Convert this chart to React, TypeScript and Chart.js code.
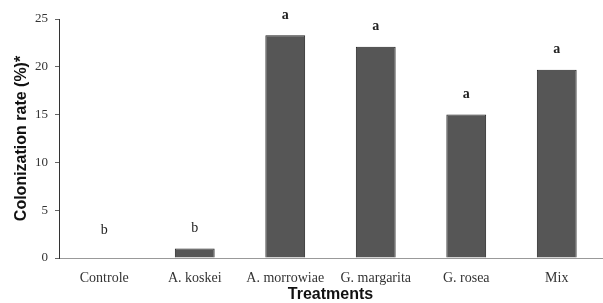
import React, { useEffect, useRef } from "react";
import { Chart, registerables } from "chart.js";

Chart.register(...registerables);

const categories = ["Controle", "A. koskei", "A. morrowiae", "G. margarita", "G. rosea", "Mix"];
const colonization = [0, 1.0, 23.3, 22.1, 15.0, 19.7];
const letters = ["b", "b", "a", "a", "a", "a"];
const yTicks = [0, 5, 10, 15, 20, 25];

const letterPlugin = {
  id: "letters",
  afterDatasetsDraw(chart: any) {
    const ctx = chart.ctx;
    const meta = chart.getDatasetMeta(0);
    const yScale = chart.scales.y;
    const base = yScale.getPixelForValue(0);
    ctx.save();
    ctx.fillStyle = "#222";
    ctx.textAlign = "center";
    ctx.textBaseline = "middle";
    meta.data.forEach((bar: any, i: number) => {
      const y = Math.min(bar.y - 20, base - 28);
      ctx.font = letters[i] === "a" ? "bold 14px 'Liberation Serif'" : "14px 'Liberation Serif'";
      ctx.fillText(letters[i], bar.x, y);
    });
    ctx.restore();
  },
};

export default function App() {
  const ref = useRef<HTMLCanvasElement>(null);
  useEffect(() => {
    document.body.style.margin = "0";
    const chart = new Chart(ref.current!, {
      type: "bar",
      data: {
        labels: categories,
        datasets: [
          {
            data: colonization,
            backgroundColor: "#565656",
            borderColor: "#222",
            borderWidth: 1,
            barPercentage: 0.44,
            categoryPercentage: 1,
          },
        ],
      },
      options: {
        animation: false,
        responsive: false,
        maintainAspectRatio: false,
        layout: { padding: { left: 0, right: 1, top: 19, bottom: 0 } },
        plugins: { legend: { display: false }, tooltip: { enabled: false } },
        scales: {
          x: {
            grid: { display: false },
            border: { display: true, color: "#999", width: 1 },
            ticks: {
              color: "#333",
              font: { family: "'Liberation Serif'", size: 14 },
              padding: 4,
              maxRotation: 0,
              autoSkip: false,
            },
            title: {
              display: true,
              text: "Treatments",
              color: "#111",
              font: { family: "'Liberation Sans'", size: 16, weight: "bold", lineHeight: 1.0 },
              padding: { top: 0, bottom: 0 },
            },
            afterFit: (s: any) => {
              s.height = 303 - 258;
            },
          },
          y: {
            min: 0,
            max: 25,
            afterBuildTicks: (s: any) => {
              s.ticks = yTicks.map((v) => ({ value: v }));
            },
            grid: { display: true, drawOnChartArea: false, tickLength: 4, color: "#666" },
            border: { display: true, color: "#333", width: 1 },
            ticks: {
              color: "#333",
              font: { family: "'Liberation Serif'", size: 13 },
              padding: 7,
            },
            title: {
              display: true,
              text: "Colonization rate (%)*",
              color: "#111",
              font: { family: "'Liberation Sans'", size: 16, weight: "bold" },
              padding: { top: 12, bottom: 0 },
            },
            afterFit: (s: any) => {
              s.width = 59;
            },
          },
        },
      },
      plugins: [letterPlugin],
    });
    return () => chart.destroy();
  }, []);
  return (
    <div style={{ position: "fixed", left: 0, top: 0, width: 603, height: 303, background: "#fff" }}>
      <canvas ref={ref} width={603} height={303} style={{ width: 603, height: 303, display: "block" }} />
    </div>
  );
}
